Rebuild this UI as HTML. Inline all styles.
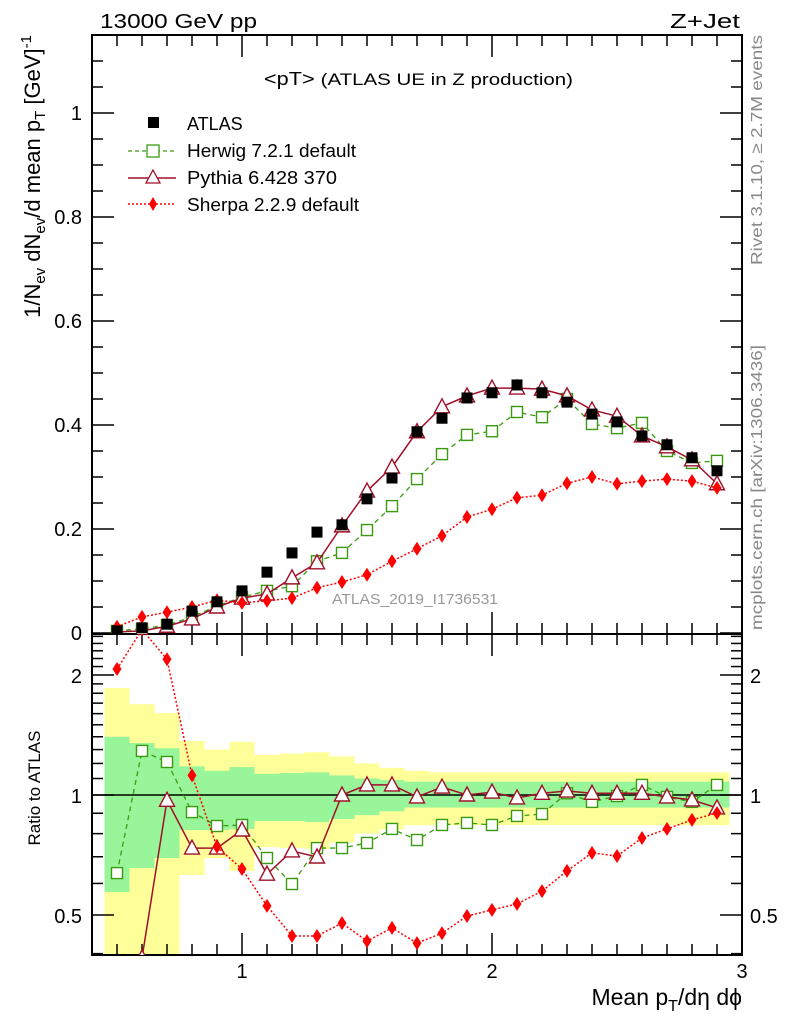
<!DOCTYPE html>
<html><head><meta charset="utf-8"><style>
body{margin:0;background:#fff;}
svg{display:block;font-family:"Liberation Sans",sans-serif;}
</style></head><body>
<svg id="chart" width="786" height="1024" viewBox="0 0 786 1024">
<g id="bands"></g>
<g id="axes"></g>
<g id="series"></g>
<text x="100" y="28" font-size="20" textLength="157" lengthAdjust="spacingAndGlyphs">13000 GeV pp</text>
<text x="670" y="28" font-size="20" textLength="70" lengthAdjust="spacingAndGlyphs">Z+Jet</text>
<text x="264" y="85" font-size="18" textLength="309" lengthAdjust="spacingAndGlyphs">&lt;pT&gt; <tspan font-size="17">(ATLAS UE in Z production)</tspan></text>
<text x="332" y="604" font-size="15" fill="#999" textLength="166" lengthAdjust="spacingAndGlyphs">ATLAS_2019_I1736531</text>
<text transform="translate(762,265) rotate(-90)" font-size="16" fill="#888" textLength="230" lengthAdjust="spacingAndGlyphs">Rivet 3.1.10, ≥ 2.7M events</text>
<text transform="translate(762,630) rotate(-90)" font-size="16" fill="#888" textLength="285" lengthAdjust="spacingAndGlyphs">mcplots.cern.ch [arXiv:1306.3436]</text>
<text transform="translate(40,35) rotate(-90)" font-size="22" text-anchor="end">1/N<tspan font-size="15" dy="5">ev</tspan><tspan dy="-5"> dN</tspan><tspan font-size="15" dy="5">ev</tspan><tspan dy="-5">/d mean p</tspan><tspan font-size="15" dy="5">T</tspan><tspan dy="-5"> [GeV]</tspan><tspan font-size="15" dy="-9">-1</tspan></text>
<text transform="translate(40,788) rotate(-90)" font-size="17" text-anchor="middle">Ratio to ATLAS</text>
<text x="742" y="1005" font-size="23" text-anchor="end">Mean p<tspan font-size="16" dy="6">T</tspan><tspan dy="-6">/dη dϕ</tspan></text>
<g>
<rect x="148" y="117" width="11" height="11" fill="#000"/>
<text x="187" y="130" font-size="18">ATLAS</text>
<line x1="128" y1="151" x2="176" y2="151" stroke="#3a9a10" stroke-width="1.3" stroke-dasharray="4,3"/>
<rect x="147" y="145" width="12" height="12" fill="#fff" stroke="#3a9a10" stroke-width="1.3"/>
<text x="187" y="157" font-size="18" textLength="169" lengthAdjust="spacingAndGlyphs">Herwig 7.2.1 default</text>
<line x1="128" y1="178" x2="176" y2="178" stroke="#a0102a" stroke-width="1.5"/>
<path d="M153,170 L160,183 L146,183 Z" fill="#fff" stroke="#a0102a" stroke-width="1.3"/>
<text x="187" y="184" font-size="18" textLength="150" lengthAdjust="spacingAndGlyphs">Pythia 6.428 370</text>
<line x1="128" y1="204" x2="176" y2="204" stroke="#f00" stroke-width="1.5" stroke-dasharray="2,2"/>
<path d="M153,197 L157,204 L153,211 L149,204 Z" fill="#f00"/>
<text x="187" y="211" font-size="18" textLength="172" lengthAdjust="spacingAndGlyphs">Sherpa 2.2.9 default</text>
</g>
</svg>
<script>
const xs=[0.5,0.6,0.7,0.8,0.9,1.0,1.1,1.2,1.3,1.4,1.5,1.6,1.7,1.8,1.9,2.0,2.1,2.2,2.3,2.4,2.5,2.6,2.7,2.8,2.9];
const atlas=[0.004,0.01,0.017,0.042,0.06,0.081,0.117,0.154,0.194,0.208,0.258,0.298,0.387,0.413,0.452,0.462,0.477,0.462,0.444,0.421,0.406,0.379,0.362,0.337,0.312];
const herwig=[0.004,0.008,0.015,0.031,0.052,0.069,0.081,0.09,0.138,0.154,0.198,0.244,0.296,0.344,0.381,0.388,0.425,0.415,0.45,0.402,0.394,0.404,0.35,0.327,0.331];
const pythia=[0.002,0.004,0.013,0.027,0.05,0.067,0.075,0.106,0.135,0.206,0.273,0.319,0.387,0.435,0.456,0.471,0.471,0.469,0.456,0.429,0.417,0.379,0.358,0.333,0.287];
const sherpa=[0.012,0.031,0.04,0.05,0.063,0.058,0.062,0.067,0.087,0.098,0.112,0.138,0.162,0.187,0.223,0.238,0.26,0.265,0.288,0.3,0.287,0.292,0.296,0.292,0.279];
const herwigRatio=[0.637,1.29,1.21,0.906,0.836,0.841,0.695,0.598,0.736,0.736,0.758,0.822,0.771,0.841,0.851,0.841,0.886,0.896,1.01,0.961,0.994,1.06,0.989,0.961,1.06];
const pythiaRatio=[0.36,0.39,0.97,0.736,0.736,0.817,0.633,0.724,0.699,1.0,1.06,1.06,0.989,1.047,1.0,1.017,0.983,1.01,1.023,1.01,1.01,1.01,0.989,0.972,0.928];
const sherpaRatio=[2.07,2.6,2.19,1.12,0.741,0.652,0.527,0.443,0.443,0.477,0.43,0.464,0.425,0.45,0.497,0.515,0.533,0.574,0.645,0.716,0.703,0.78,0.822,0.866,0.901];
const greenUp=[1.40,1.35,1.31,1.18,1.15,1.175,1.13,1.135,1.14,1.12,1.10,1.09,1.08,1.08,1.08,1.08,1.08,1.08,1.08,1.08,1.08,1.08,1.08,1.08,1.08];
const greenDn=[0.571,0.656,0.695,0.817,0.817,0.822,0.86,0.86,0.855,0.87,0.89,0.91,0.93,0.93,0.93,0.93,0.93,0.93,0.93,0.93,0.93,0.93,0.93,0.93,0.93];
const yellowUp=[1.855,1.69,1.605,1.366,1.30,1.36,1.26,1.27,1.28,1.25,1.2,1.17,1.15,1.14,1.14,1.14,1.14,1.14,1.14,1.14,1.14,1.14,1.14,1.14,1.14];
const yellowDn=[0.35,0.35,0.35,0.63,0.695,0.645,0.74,0.736,0.732,0.76,0.8,0.82,0.84,0.84,0.84,0.84,0.84,0.84,0.84,0.84,0.84,0.84,0.84,0.84,0.84];
const mainTicks=[0,0.2,0.4,0.6,0.8,1];
const ratioTicks=[0.5,1,2];
const xTicks=[1,2,3];

const NS='http://www.w3.org/2000/svg';
const L=92,R=742,T=35,MB=634,RB=955;
const X=v=>L+(v-0.4)*250;
const Y=v=>633-v*520;
const YR=v=>Math.min(Math.max(795-Math.log2(v)*120,MB),RB);
function el(p,tag,a){const e=document.createElementNS(NS,tag);for(const k in a)e.setAttribute(k,a[k]);p.appendChild(e);return e;}
const bands=document.getElementById('bands'),axes=document.getElementById('axes'),ser=document.getElementById('series');

for(let i=0;i<xs.length;i++){
 let r=el(bands,'rect',{x:X(xs[i]-0.05),width:25,y:YR(yellowUp[i]),height:YR(yellowDn[i])-YR(yellowUp[i]),fill:'#ffff99'});
 
 
}
for(let i=0;i<xs.length;i++){
 let r=el(bands,'rect',{x:X(xs[i]-0.05),width:25,y:YR(greenUp[i]),height:YR(greenDn[i])-YR(greenUp[i]),fill:'#99f599'});
 
 
}
el(axes,'line',{x1:L,x2:R,y1:795,y2:795,stroke:'#000','stroke-width':1.5});
el(axes,'rect',{x:L,y:T,width:R-L,height:MB-T,fill:'none',stroke:'#000','stroke-width':2});
el(axes,'rect',{x:L,y:MB,width:R-L,height:RB-MB,fill:'none',stroke:'#000','stroke-width':2});
for(let v=0;v<=1.2;v+=0.05){const y=Y(v);if(y<T)break;const maj=Math.abs(v*5-Math.round(v*5))<1e-6;const len=maj?22:11;
 el(axes,'line',{x1:L,x2:L+len,y1:y,y2:y,stroke:'#000','stroke-width':1.5});el(axes,'line',{x1:R,x2:R-len,y1:y,y2:y,stroke:'#000','stroke-width':1.5});}
mainTicks.forEach(v=>{const t=el(axes,'text',{x:82,y:Y(v)+7,'font-size':20,'text-anchor':'end'});t.textContent=v===0?'0':String(v);
 
 });
const rminor=[0.4,0.5,0.6,0.7,0.8,0.9,1,1.1,1.2,1.3,1.4,1.5,1.6,1.7,1.8,1.9,2,2.1,2.2,2.3,2.4,2.5];
rminor.forEach(v=>{const y=795-Math.log2(v)*120;if(y<MB||y>RB)return;const maj=ratioTicks.includes(v);const len=maj?22:11;
 el(axes,'line',{x1:L,x2:L+len,y1:y,y2:y,stroke:'#000','stroke-width':1.5});el(axes,'line',{x1:R,x2:R-len,y1:y,y2:y,stroke:'#000','stroke-width':1.5});});
ratioTicks.forEach(v=>{const y=795-Math.log2(v)*120;
 let t=el(axes,'text',{x:82,y:y+8,'font-size':20,'text-anchor':'end'});t.textContent=String(v);
 
 
 t=el(axes,'text',{x:750,y:y+8,'font-size':20});t.textContent=String(v);
 
 });
for(let k=5;k<=30;k++){const v=k/10;const x=X(v);const maj=k%10===0;const len=maj?22:11;
 [[MB,1],[T,1],[MB,-1],[RB,-1]].forEach(([y0,d])=>el(axes,'line',{x1:x,x2:x,y1:y0,y2:y0+d*len,stroke:'#000','stroke-width':1.5}));}
xTicks.forEach(v=>{const t=el(axes,'text',{x:X(v),y:978,'font-size':20,'text-anchor':'middle'});t.textContent=String(v);
 
 });

const clip=el(ser,'clipPath',{id:'cm'});el(clip,'rect',{x:L,y:T,width:R-L,height:MB-T});
const clip2=el(ser,'clipPath',{id:'cr'});el(clip2,'rect',{x:L,y:MB,width:R-L,height:RB-MB});
function marker(g,kind,x,y,col){
 let m;
 if(kind==='sq')m=el(g,'rect',{x:x-5.5,y:y-5.5,width:11,height:11,fill:'#fff',stroke:col,'stroke-width':1.4});
 else if(kind==='tri')m=el(g,'path',{d:`M${x},${y-8} L${x+7.5},${y+6} L${x-7.5},${y+6} Z`,fill:'#fff',stroke:col,'stroke-width':1.4});
 else if(kind==='dia')m=el(g,'path',{d:`M${x},${y-7} L${x+4.5},${y} L${x},${y+7} L${x-4.5},${y} Z`,fill:col});
 else m=el(g,'rect',{x:x-5.5,y:y-5.5,width:11,height:11,fill:col});
 return m;
}
function series(vals,yf,kind,col,dash,w,clipId,name){
 const g=el(ser,'g',{'clip-path':`url(#${clipId})`});
 
 
 if(dash!==null){el(g,'polyline',{points:vals.map((v,i)=>X(xs[i])+','+yf(v)).join(' '),fill:'none',stroke:col,'stroke-width':w,'stroke-dasharray':dash});}
 vals.forEach((v,i)=>{const m=marker(g,kind,X(xs[i]),yf(v),col);
  
  });
}
const Yr=v=>795-Math.log2(v)*120;
series(herwig,Y,'sq','#3a9a10','5,4',1.3,'cm','herwig-main');
series(pythia,Y,'tri','#a0102a','',1.5,'cm','pythia-main');
series(sherpa,Y,'dia','#f00','2,2',1.5,'cm','sherpa-main');
series(atlas,Y,'data','#000',null,0,'cm','atlas-main');
series(herwigRatio,Yr,'sq','#3a9a10','5,4',1.3,'cr','herwig-ratio');
series(pythiaRatio,Yr,'tri','#a0102a','',1.5,'cr','pythia-ratio');
series(sherpaRatio,Yr,'dia','#f00','2,2',1.5,'cr','sherpa-ratio');
</script>
</body></html>
